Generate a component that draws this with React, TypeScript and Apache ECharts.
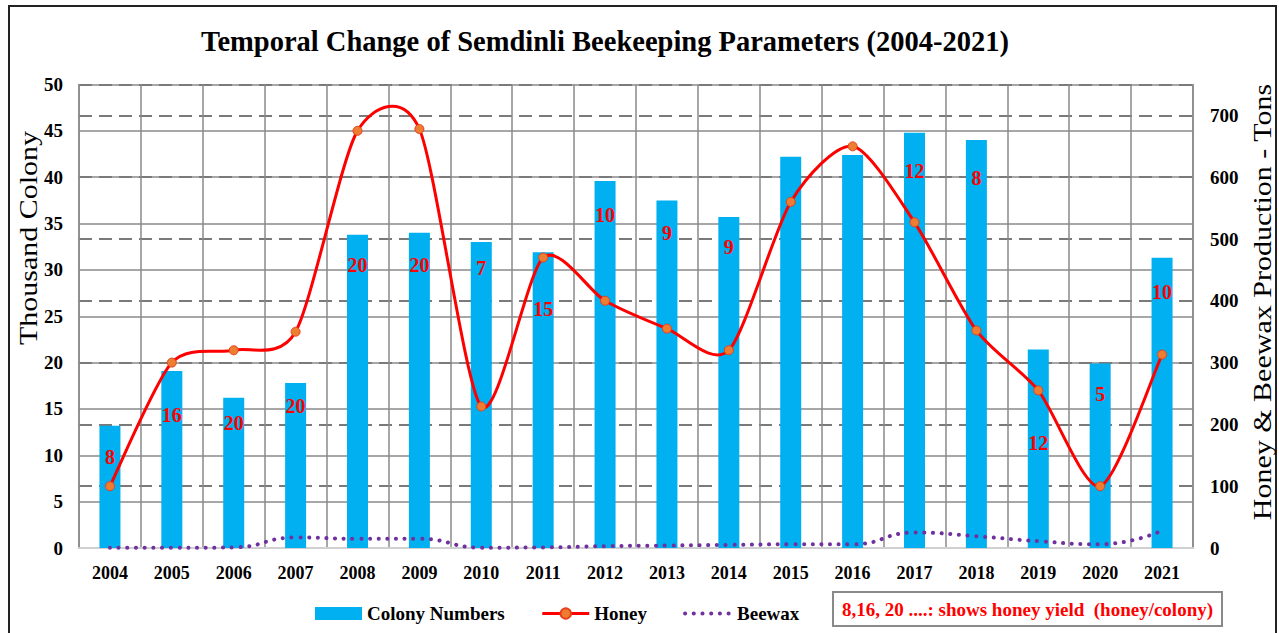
import React, { useEffect, useRef } from "react";
import * as echarts from "echarts";

const years = ["2004", "2005", "2006", "2007", "2008", "2009", "2010", "2011", "2012", "2013", "2014", "2015", "2016", "2017", "2018", "2019", "2020", "2021"];
const colonyNumbers = [13.2, 19.1, 16.2, 17.8, 33.8, 34.0, 33.0, 31.9, 39.6, 37.5, 35.7, 42.2, 42.4, 44.8, 44.0, 21.4, 19.9, 31.3];
const honey = [100, 300, 320, 350, 675, 678, 229, 470, 400, 355, 320, 560, 650, 527, 352, 255, 100, 313];
const beewax = [0.5, 0.3, 1, 17, 15, 15, 0.5, 1, 3, 4, 5, 6, 6, 25, 19, 11, 6, 28];
const honeyYield: (number | null)[] = [8, 16, 20, 20, 20, 20, 7, 15, 10, 9, 9, null, null, 12, 8, 12, 5, 10];
const leftTicks = [0, 50, 5];
const rightTicks = [0, 750, 100];

const FONT = "Liberation Serif";
// label placement (px below bar top), style only
const labelDrop = [31, 44, 25, 23, 30, 32, 26, 57, 34, 33, 30, 30, 30, 38, 38, 93, 30, 34];
const TENSION = 0.13;

export default function App() {
  const ref = useRef<HTMLDivElement>(null);
  useEffect(() => {
    if (!ref.current) return;
    const chart = echarts.init(ref.current, null, { renderer: "svg" });
    const barData = colonyNumbers.map((v, i) => ({
      value: v,
      label: {
        show: honeyYield[i] != null,
        formatter: honeyYield[i] != null ? String(honeyYield[i]) : "",
        distance: labelDrop[i] - 10,
      },
    }));
    const n = honey.length;
    const honeyCurve = (params: any, api: any) => {
      const i = params.dataIndex;
      if (i >= n - 1) return null;
      const P = (k: number) => {
        const kk = Math.max(0, Math.min(n - 1, k));
        return api.coord([kk, honey[kk]]);
      };
      const p0 = P(i - 1), p1 = P(i), p2 = P(i + 1), p3 = P(i + 2);
      return {
        type: "bezierCurve",
        shape: {
          x1: p1[0],
          y1: p1[1],
          x2: p2[0],
          y2: p2[1],
          cpx1: p1[0] + (p2[0] - p0[0]) * TENSION,
          cpy1: p1[1] + (p2[1] - p0[1]) * TENSION,
          cpx2: p2[0] - (p3[0] - p1[0]) * TENSION,
          cpy2: p2[1] - (p3[1] - p1[1]) * TENSION,
        },
        style: { stroke: "#FF0000", lineWidth: 3, fill: "none", lineCap: "round" },
        silent: true,
      };
    };
    chart.setOption({
      animation: false,
      backgroundColor: "#ffffff",
      title: {
        text: "Temporal Change of Semdinli Beekeeping Parameters (2004-2021)",
        left: 196,
        top: 22,
        textStyle: { fontFamily: FONT, fontWeight: "bold", fontSize: 28.5, color: "#000" },
      },
      grid: { left: 79, right: 86, top: 84.5, bottom: 85, containLabel: false },
      legend: {
        left: 310,
        top: 599,
        itemWidth: 47,
        itemHeight: 13,
        itemGap: 36,
        textStyle: { fontFamily: FONT, fontWeight: "bold", fontSize: 19, color: "#000" },
        data: [
          { name: "Colony Numbers", icon: "rect" },
          { name: "Honey", lineStyle: { color: "#FF0000", width: 3, opacity: 1 } },
          {
            name: "Beewax",
            itemStyle: { opacity: 0 },
            lineStyle: { color: "#7030A0", width: 4, type: [0.1, 8.6], cap: "round", opacity: 1 },
          },
        ],
      },
      xAxis: {
        type: "category",
        data: years,
        boundaryGap: true,
        axisTick: { show: false },
        axisLine: { show: true, lineStyle: { color: "#d0d0d0", width: 2 } },
        axisLabel: { fontFamily: FONT, fontWeight: "bold", fontSize: 18, color: "#000", margin: 16 },
        splitLine: { show: true, interval: 0, lineStyle: { color: "#8a8a8a", width: 1.5 } },
      },
      yAxis: [
        {
          type: "value",
          min: leftTicks[0],
          max: leftTicks[1],
          interval: leftTicks[2],
          axisLine: { show: true, lineStyle: { color: "#8a8a8a", width: 1.5 } },
          axisTick: { show: false },
          axisLabel: { fontFamily: FONT, fontWeight: "bold", fontSize: 19, color: "#000", margin: 16 },
          splitLine: { show: true, lineStyle: { color: "#8a8a8a", width: 1.5 } },
        },
        {
          type: "value",
          min: rightTicks[0],
          max: rightTicks[1],
          interval: rightTicks[2],
          position: "right",
          axisLine: { show: true, lineStyle: { color: "#8a8a8a", width: 1.5 } },
          axisTick: { show: false },
          axisLabel: {
            fontFamily: FONT,
            fontWeight: "bold",
            fontSize: 19,
            color: "#000",
            margin: 17,
            showMaxLabel: false,
          },
          splitLine: { show: true, lineStyle: { color: "#7a7a7a", width: 2, type: [13, 7] } },
        },
      ],
      series: [
        {
          name: "Colony Numbers",
          type: "bar",
          data: barData,
          barWidth: 21,
          itemStyle: { color: "#00B0F0" },
          label: {
            show: true,
            position: "insideTop",
            fontFamily: FONT,
            fontWeight: "bold",
            fontSize: 20,
            color: "#FF0000",
          },
          z: 2,
        },
        {
          name: "Honey",
          type: "line",
          yAxisIndex: 1,
          data: honey,
          symbol: "circle",
          symbolSize: 9,
          lineStyle: { color: "#FF0000", width: 3, opacity: 0 },
          itemStyle: { color: "#ED7D31", borderColor: "#E8401C", borderWidth: 1 },
          z: 5,
        },
        {
          name: "Honey",
          type: "custom",
          yAxisIndex: 1,
          data: honey.map((v, i) => [i, v]),
          encode: { x: 0, y: 1 },
          renderItem: honeyCurve,
          itemStyle: { color: "#FF0000" },
          z: 4,
        },
        {
          name: "Beewax",
          type: "line",
          yAxisIndex: 1,
          data: beewax,
          smooth: 0.5,
          symbol: "none",
          lineStyle: { color: "#7030A0", width: 4, type: [0.1, 8.6], cap: "round" },
          itemStyle: { color: "#7030A0" },
          z: 3,
        },
      ],
      graphic: [
        {
          type: "rect",
          shape: { x: 9, y: 6, width: 1267, height: 640 },
          style: { fill: "none", stroke: "#222", lineWidth: 2 },
          silent: true,
        },
        {
          type: "text",
          x: 28,
          y: 238,
          rotation: Math.PI / 2,
          scaleX: 1.2,
          style: {
            text: "Thousand Colony",
            font: `25px "${FONT}"`,
            fill: "#000",
            align: "center",
            verticalAlign: "middle",
          },
        },
        {
          type: "text",
          x: 1262,
          y: 302,
          rotation: Math.PI / 2,
          scaleX: 1.2,
          style: {
            text: "Honey & Beewax Production - Tons",
            font: `25px "${FONT}"`,
            fill: "#000",
            align: "center",
            verticalAlign: "middle",
          },
        },
        {
          type: "rect",
          shape: { x: 833, y: 592, width: 389, height: 34 },
          style: { fill: "#fff", stroke: "#8a8a8a", lineWidth: 2 },
        },
        {
          type: "text",
          x: 1027.5,
          y: 609,
          style: {
            text: "8,16, 20 ....: shows honey yield  (honey/colony)",
            font: `bold 19px "${FONT}"`,
            fill: "#FF0000",
            align: "center",
            verticalAlign: "middle",
          },
        },
      ],
    });
    return () => chart.dispose();
  }, []);
  return (
    <div
      ref={ref}
      style={{ position: "absolute", left: 0, top: 0, width: 1279, height: 633, background: "#fff" }}
    />
  );
}
